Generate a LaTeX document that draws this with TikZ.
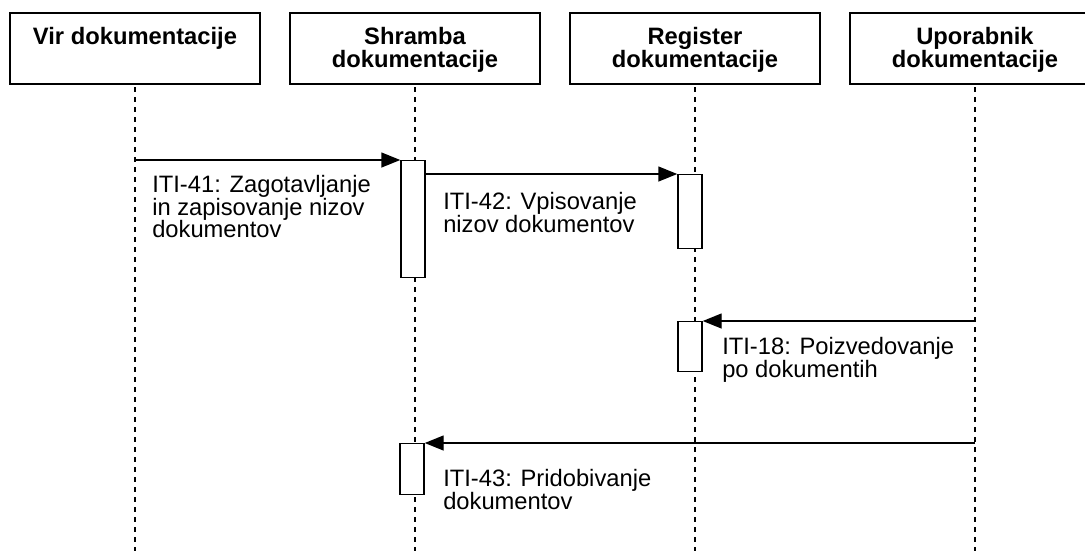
\documentclass[tikz,border=0pt]{standalone}
\usepackage{fontspec}
\setmainfont{Liberation Sans}
\usetikzlibrary{arrows.meta,positioning}
\tikzset{
  actor/.style={draw, line width=1.5pt, minimum width=187.5pt, minimum height=53.25pt, inner sep=0pt},
  actortitle/.style={font=\bfseries\fontsize{17.8pt}{17pt}\selectfont, align=center, inner sep=0pt, anchor=north, yshift=-11.25pt},
  lifeline/.style={line width=1.1pt, dash pattern=on 3.4pt off 4.1pt},
  activation/.style={draw, fill=white, line width=1.1pt, minimum width=18pt, inner sep=0pt, anchor=north},
  msg/.style={line width=1.1pt, -{Triangle[length=14.25pt,width=11.25pt]}},
  msglabel/.style={font=\fontsize{17.8pt}{17pt}\selectfont, align=left, inner sep=0pt, anchor=north west}
}
\begin{document}
\begin{tikzpicture}[x=0.75pt, y=-0.75pt]
    \useasboundingbox (0,0) rectangle (1085,551);
    \clip (0,0) rectangle (1085,551);
    \coordinate (bottom) at (0,551);
    % actors
    \node[actor, label={[actortitle]north:{Vir dokumentacije}}] (vir) at (135,48.5) {};
    \node[actor, right=21pt of vir, label={[actortitle]north:{Shramba\\dokumentacije}}] (shramba) {};
    \node[actor, right=21pt of shramba, label={[actortitle]north:{Register\\dokumentacije}}] (register) {};
    \node[actor, right=21pt of register, label={[actortitle]north:{Uporabnik\\dokumentacije}}] (uporabnik) {};
    % lifelines
    \foreach \a in {vir,shramba,register,uporabnik}
      \draw[lifeline] (\a.south) ++(0,2) -- (\a.south |- bottom);
    % activations
    \node[activation, minimum height=87.75pt] (act1) at (413,160) {};
    \node[activation, minimum height=55.5pt] (act2) at (690,174) {};
    \node[activation, minimum height=37.5pt] (act3) at (690,321) {};
    \node[activation, minimum height=38.25pt] (act4) at (412,443) {};
    % messages
    \draw[msg] (vir.south |- act1.north) -- (act1.north west);
    \draw[msg] (act1.east |- act2.north) -- (act2.north west);
    \draw[msg] (uporabnik.south |- act3.north) -- (act3.north east);
    \draw[msg] (uporabnik.south |- act4.north) -- (act4.north east);
    \node[msglabel] (iti41) at (152,175) {ITI-41: Zagotavljanje\\in zapisovanje nizov\\dokumentov};
    \node[msglabel] (iti42) at (443,192) {ITI-42: Vpisovanje\\nizov dokumentov};
    \node[msglabel] (iti18) at (722,337) {ITI-18: Poizvedovanje\\po dokumentih};
    \node[msglabel] (iti43) at (443,469) {ITI-43: Pridobivanje\\dokumentov};
\end{tikzpicture}
\end{document}
